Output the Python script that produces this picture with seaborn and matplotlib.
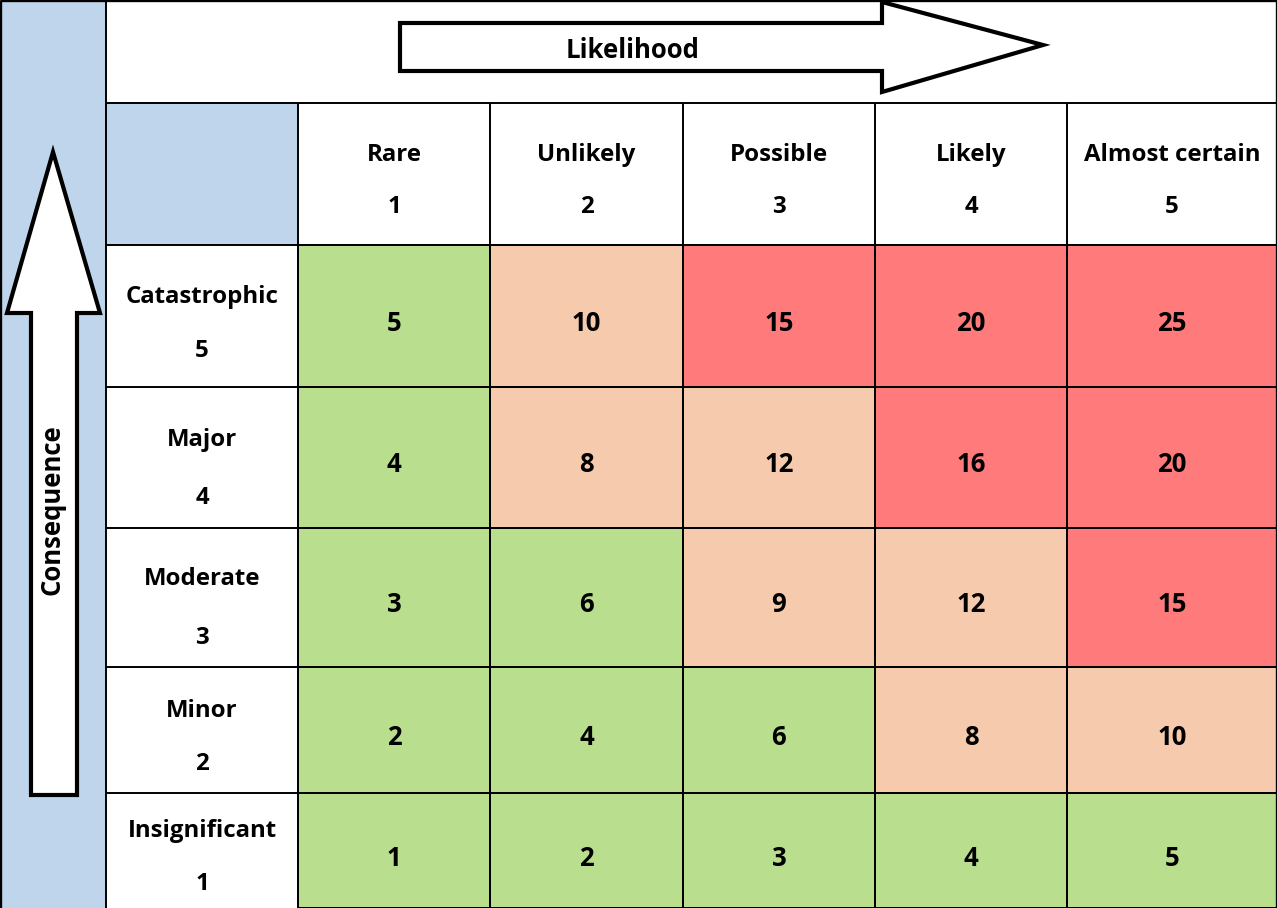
import numpy as np
import pandas as pd
import matplotlib
matplotlib.use("Agg")
import matplotlib.pyplot as plt
from matplotlib.colors import ListedColormap, BoundaryNorm
from matplotlib.patches import Polygon, Rectangle
from matplotlib.transforms import offset_copy
import seaborn as sns

# ---------------- data ----------------
likelihood = ["Rare", "Unlikely", "Possible", "Likely", "Almost certain"]
likelihood_scores = [1, 2, 3, 4, 5]
consequence = ["Catastrophic", "Major", "Moderate", "Minor", "Insignificant"]
consequence_scores = [5, 4, 3, 2, 1]
risk = [
    [5, 10, 15, 20, 25],
    [4, 8, 12, 16, 20],
    [3, 6, 9, 12, 15],
    [2, 4, 6, 8, 10],
    [1, 2, 3, 4, 5],
]
level_bounds = [0, 7, 14, 26]          # low / medium / high
level_colors = ["#B9DF8E", "#F6CAAC", "#FF7B7B"]
header_blue = "#BED5EB"
x_title = "Likelihood"
y_title = "Consequence"

# ---------------- layout (pixel grid of the table) ----------------
W, H = 1277, 908
x_idx = [-2, -1, 0, 1, 2, 3, 4, 5]
x_px = [0, 106, 298, 490, 683, 875, 1067, 1277]
y_idx = [-2, -1, 0, 1, 2, 3, 4, 5]
y_px = [0, 103, 245, 387, 528, 667, 793, 908]
# vertical placement of the two text lines inside the header cells (fraction of cell)
col_name_frac, col_num_frac = 0.345, 0.71
row_name_frac = [0.345, 0.35, 0.34, 0.325, 0.30]
row_num_frac = [0.725, 0.76, 0.764, 0.74, 0.757]


def fx(v):
    return np.interp(v, x_idx, x_px)


def fx_inv(p):
    return np.interp(p, x_px, x_idx)


def fy(v):
    return np.interp(v, y_idx, y_px)


def fy_inv(p):
    return np.interp(p, y_px, y_idx)


sns.set_style("white")
plt.rcParams["font.family"] = ["Open Sans", "DejaVu Sans"]
plt.rcParams["text.color"] = "black"
FS = 17.3
FS_NUM = 18.5
FS_TITLE = 18.5

fig = plt.figure(figsize=(W / 100, H / 100), dpi=100)
ax = fig.add_axes([0, 0, 1, 1])


def sink(t, dots):
    """Move a text down so that its ink (not its box) is centred on the anchor."""
    t.set_transform(offset_copy(t.get_transform(), fig=fig, x=0, y=-dots, units="dots"))


df = pd.DataFrame(risk, index=consequence, columns=likelihood)
sns.heatmap(
    df, ax=ax,
    cmap=ListedColormap(level_colors),
    norm=BoundaryNorm(level_bounds, len(level_colors)),
    annot=True, fmt="d", cbar=False,
    linewidths=1.4, linecolor="black",
    xticklabels=False, yticklabels=False,
    annot_kws=dict(fontsize=FS_NUM, fontweight="bold", color="black"),
)

ax.set_xscale("function", functions=(fx, fx_inv))
ax.set_yscale("function", functions=(fy, fy_inv))
ax.set_xlim(-2, 5)
ax.set_ylim(5, -2)
ax.axis("off")

for t in ax.texts:
    sink(t, 7.5)

# blue strip and corner cell
ax.add_patch(Rectangle((-2, -2), 1, 7, fc=header_blue, ec="none", zorder=0))
ax.add_patch(Rectangle((-1, -1), 1, 1, fc=header_blue, ec="none", zorder=0))

# grid lines
lw = 1.4
ax.vlines([-1], -2, 5, color="black", lw=lw, zorder=5)
ax.vlines([0, 1, 2, 3, 4], -1, 5, color="black", lw=lw, zorder=5)
ax.vlines([-2, 5], -2, 5, color="black", lw=2.4, zorder=5)
ax.hlines([-1, 0, 1, 2, 3, 4], -1, 5, color="black", lw=lw, zorder=5)
ax.hlines([-2], -2, 5, color="black", lw=2.4, zorder=5)

# column headers
for j, (name, sc) in enumerate(zip(likelihood, likelihood_scores)):
    t1 = ax.text(j + 0.5, -1 + col_name_frac, name, ha="center", va="center",
                 fontsize=FS, fontweight="bold", color="black", zorder=6)
    t2 = ax.text(j + 0.5, -1 + col_num_frac, str(sc), ha="center", va="center",
                 fontsize=FS, fontweight="bold", color="black", zorder=6)
    sink(t1, 3.5)
    sink(t2, 3.5)

# row headers
for i, (name, sc) in enumerate(zip(consequence, consequence_scores)):
    t1 = ax.text(-0.5, i + row_name_frac[i], name, ha="center", va="center",
                 fontsize=FS, fontweight="bold", color="black", zorder=6)
    t2 = ax.text(-0.5, i + row_num_frac[i], str(sc), ha="center", va="center",
                 fontsize=FS, fontweight="bold", color="black", zorder=6)
    sink(t1, 3.5)
    sink(t2, 3.5)

# arrows (overlay in pixel coordinates)
ax2 = fig.add_axes([0, 0, 1, 1])
ax2.set_xlim(0, W)
ax2.set_ylim(H, 0)
ax2.axis("off")
ax2.patch.set_alpha(0)

h_arrow = [(400, 23), (882, 23), (882, 2), (1043, 45), (882, 92), (882, 71), (400, 71)]
v_arrow = [(31, 795), (31, 313), (7, 313), (53, 152), (100, 313), (77, 313), (77, 795)]
for pts in (h_arrow, v_arrow):
    ax2.add_patch(Polygon(pts, closed=True, fc="white", ec="black", lw=3,
                          joinstyle="miter", zorder=3))
tx = ax2.text(633, 48, x_title, ha="center", va="center", fontsize=FS_TITLE,
              fontweight="bold", color="black", zorder=4)
sink(tx, 3)
ty = ax2.text(52, 510, y_title, ha="center", va="center", rotation=90,
              fontsize=FS_TITLE, fontweight="bold", color="black", zorder=4)

fig.savefig("out.png", dpi=100)
